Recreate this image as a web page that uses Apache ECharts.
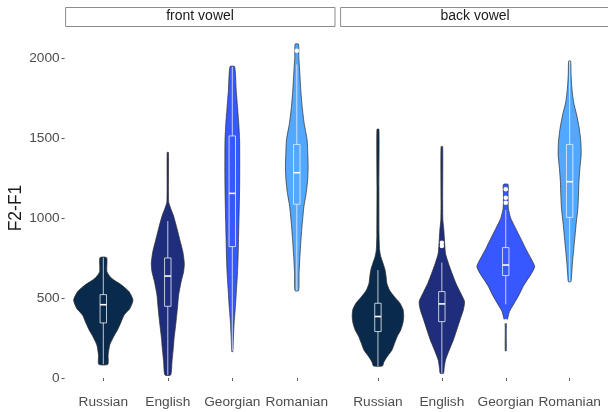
<!DOCTYPE html>
<html>
<head>
<meta charset="utf-8">
<script src="https://cdn.jsdelivr.net/npm/echarts@6/dist/echarts.min.js"></script>
<style>
html,body{margin:0;padding:0;background:#fff;}
#chart{width:608px;height:412px;}
</style>
</head>
<body>
<div id="chart"></div>
<script>
// ---------------- DATA ----------------
const categories = ['Russian', 'English', 'Georgian', 'Romanian'];
const facets = ['front vowel', 'back vowel'];
const yTicks = [0, 500, 1000, 1500, 2000];
const yAxisTitle = 'F2-F1';

// violin outlines: [F2-F1 value, half width in category units]
const frontRussianViolin = [[752,0.052],[664,0.057],[623,0.129],[581,0.284],[539,0.40],[487,0.46],[435,0.413],[394,0.323],[344,0.27],[300,0.22],[258,0.16],[206,0.10],[144,0.075],[85,0.07]];
const frontEnglishViolin = [[1410,0.01],[1102,0.013],[1060,0.045],[1018,0.085],[935,0.142],[852,0.194],[789,0.233],[717,0.256],[664,0.245],[602,0.207],[519,0.168],[446,0.152],[360,0.13],[310,0.116],[237,0.095],[206,0.09],[102,0.065],[19,0.045]];
const frontGeorgianViolin = [[1946,0.036],[1800,0.06],[1696,0.08],[1592,0.10],[1488,0.113],[1383,0.115],[1279,0.115],[1175,0.113],[1071,0.108],[967,0.102],[863,0.096],[758,0.09],[654,0.08],[550,0.064],[446,0.048],[342,0.028],[238,0.016],[165,0.008]];
const frontRomanianViolin = [[2087,0.026],[2008,0.031],[1904,0.047],[1800,0.062],[1696,0.083],[1592,0.114],[1488,0.16],[1383,0.172],[1321,0.176],[1238,0.168],[1154,0.145],[1071,0.11],[967,0.085],[863,0.065],[758,0.048],[654,0.035],[546,0.028]];
const backRussianViolin = [[1554,0.016],[1200,0.015],[900,0.017],[800,0.026],[758,0.045],[717,0.08],[675,0.112],[633,0.128],[592,0.14],[550,0.18],[508,0.258],[467,0.345],[425,0.395],[383,0.403],[342,0.39],[300,0.357],[258,0.30],[217,0.26],[175,0.22],[133,0.145],[100,0.093],[75,0.07]];
const backEnglishViolin = [[1446,0.013],[1100,0.013],[988,0.016],[925,0.031],[862,0.041],[779,0.057],[717,0.103],[654,0.16],[592,0.22],[529,0.297],[477,0.355],[425,0.336],[363,0.284],[300,0.233],[238,0.181],[175,0.116],[112,0.057],[60,0.036],[29,0.026]];
const backGeorgianViolin = [[1210,0.036],[1144,0.036],[1060,0.041],[998,0.078],[935,0.155],[873,0.233],[810,0.31],[748,0.393],[696,0.452],[644,0.388],[581,0.284],[519,0.207],[456,0.116],[415,0.057],[373,0.03],[352,0.012],[300,0.008],[169,0.008]];
const backRomanianViolin = [[1981,0.015],[1894,0.022],[1810,0.035],[1727,0.06],[1644,0.11],[1560,0.15],[1477,0.175],[1394,0.18],[1310,0.16],[1227,0.145],[1144,0.138],[1060,0.128],[977,0.105],[894,0.085],[810,0.065],[727,0.045],[644,0.03],[602,0.02]];

// boxplots: [lower whisker, Q1, median, Q3, upper whisker]
const frontBoxes = [[85,344,458,521,752],[19,448,637,750,981],[169,821,1154,1513,1946],[546,1086,1283,1460,1960]];
const backBoxes = [[75,290,384,467,675],[29,352,463,540,721],[460,640,706,815,1050],[602,1004,1227,1460,1981]];

// outliers: [category position, value]
const frontOutliers = [[4,2046]];
const backOutliers = [[2,846],[2,825],[3,1179],[3,1127],[3,1096],[3,355]];

const colors = ['#0a2a4c', '#1f2d7d', '#3758ff', '#52a7ff'];

// ---------------- BUILD ----------------
const frontViolins = [frontRussianViolin, frontEnglishViolin, frontGeorgianViolin, frontRomanianViolin];
const backViolins = [backRussianViolin, backEnglishViolin, backGeorgianViolin, backRomanianViolin];

function violinSeries(profiles, axisIdx) {
  return {
    type: 'custom', xAxisIndex: axisIdx, yAxisIndex: axisIdx, silent: true,
    data: categories.map((c, i) => [i + 1, 0]),
    renderItem: function (params, api) {
      const pos = api.value(0);
      const prof = profiles[pos - 1];
      const pts = [];
      for (let k = 0; k < prof.length; k++) pts.push(api.coord([pos + prof[k][1], prof[k][0]]));
      for (let k = prof.length - 1; k >= 0; k--) pts.push(api.coord([pos - prof[k][1], prof[k][0]]));
      return {
        type: 'polygon',
        shape: { points: pts, smooth: 0.2 },
        style: { fill: colors[pos - 1], stroke: '#2b2b2b', lineWidth: 0.7 }
      };
    }
  };
}

function boxSeries(boxes, axisIdx) {
  const hw = 0.05;
  return {
    type: 'custom', xAxisIndex: axisIdx, yAxisIndex: axisIdx, silent: true, z: 5,
    data: boxes.map((b, i) => [i + 1].concat(b)),
    renderItem: function (params, api) {
      const pos = api.value(0);
      const lo = api.value(1), q1 = api.value(2), med = api.value(3), q3 = api.value(4), hi = api.value(5);
      const a = api.coord([pos - hw, q3]);
      const b = api.coord([pos + hw, q1]);
      const m1 = api.coord([pos - hw, med]);
      const m2 = api.coord([pos + hw, med]);
      const wTop = api.coord([pos, hi]);
      const wQ3 = api.coord([pos, q3]);
      const wQ1 = api.coord([pos, q1]);
      const wBot = api.coord([pos, lo]);
      const st = { stroke: 'rgba(235,240,248,0.8)', lineWidth: 1, fill: null };
      return {
        type: 'group',
        children: [
          { type: 'line', shape: { x1: wTop[0], y1: wTop[1], x2: wQ3[0], y2: wQ3[1] }, style: st },
          { type: 'line', shape: { x1: wQ1[0], y1: wQ1[1], x2: wBot[0], y2: wBot[1] }, style: st },
          { type: 'rect', shape: { x: a[0], y: a[1], width: b[0] - a[0], height: b[1] - a[1] }, style: st },
          { type: 'line', shape: { x1: m1[0], y1: m1[1], x2: m2[0], y2: m2[1] }, style: { stroke: '#ffffff', lineWidth: 1.6 } }
        ]
      };
    }
  };
}

function outlierSeries(pts, axisIdx) {
  return {
    type: 'scatter', xAxisIndex: axisIdx, yAxisIndex: axisIdx, silent: true, z: 6,
    data: pts, symbolSize: 4.5, itemStyle: { color: '#ffffff', opacity: 1 }
  };
}

const FONT = '"Liberation Sans", Arial, sans-serif';
const gridTop = 27, gridBottom = 23, gridW = 270.9;
const panelLefts = [64.6, 339.6];

function xAxis(i) {
  return {
    type: 'value', gridIndex: i, min: 0.4, max: 4.6,
    axisLine: { show: false },
    splitLine: { show: false },
    axisTick: { show: true, length: 3, customValues: [1, 2, 3, 4], lineStyle: { color: '#333333', width: 0.8 } },
    axisLabel: { show: true, customValues: [1, 2, 3, 4], margin: 6, color: '#4d4d4d', fontSize: 13.7, fontFamily: FONT,
      formatter: v => categories[Math.round(v) - 1] || '' }
  };
}
function yAxis(i) {
  return {
    type: 'value', gridIndex: i, min: -69, max: 2194,
    axisLine: { show: false },
    splitLine: { show: false },
    name: i === 0 ? yAxisTitle : '',
    nameLocation: 'middle', nameGap: 36, nameRotate: 90,
    nameTextStyle: { fontSize: 17.5, color: '#1a1a1a', fontFamily: FONT },
    axisTick: { show: i === 0, length: 3, customValues: yTicks, lineStyle: { color: '#333333', width: 0.8 } },
    axisLabel: { show: i === 0, customValues: yTicks, margin: 5, color: '#4d4d4d', fontSize: 13.7, fontFamily: FONT,
      formatter: v => String(v) }
  };
}

const graphics = [];
facets.forEach((f, i) => {
  graphics.push({ type: 'rect', left: panelLefts[i] + 0.5, top: 7, shape: { width: gridW - 1.5, height: 19 },
    style: { fill: '#ffffff', stroke: '#8c8c8c', lineWidth: 1 } });
  graphics.push({ type: 'text', x: panelLefts[i] + gridW / 2, y: 16.5,
    style: { text: f, fill: '#1a1a1a', fontSize: 14, fontFamily: FONT, align: 'center', verticalAlign: 'middle' } });
});

const option = {
  animation: false,
  backgroundColor: '#ffffff',
  grid: panelLefts.map(l => ({ left: l, width: gridW, top: gridTop, bottom: gridBottom })),
  xAxis: [xAxis(0), xAxis(1)],
  yAxis: [yAxis(0), yAxis(1)],
  graphic: graphics,
  series: [
    violinSeries(frontViolins, 0), boxSeries(frontBoxes, 0), outlierSeries(frontOutliers, 0),
    violinSeries(backViolins, 1), boxSeries(backBoxes, 1), outlierSeries(backOutliers, 1)
  ]
};

const chart = echarts.init(document.getElementById('chart'), null, { renderer: 'canvas' });
chart.setOption(option);
</script>
</body>
</html>
